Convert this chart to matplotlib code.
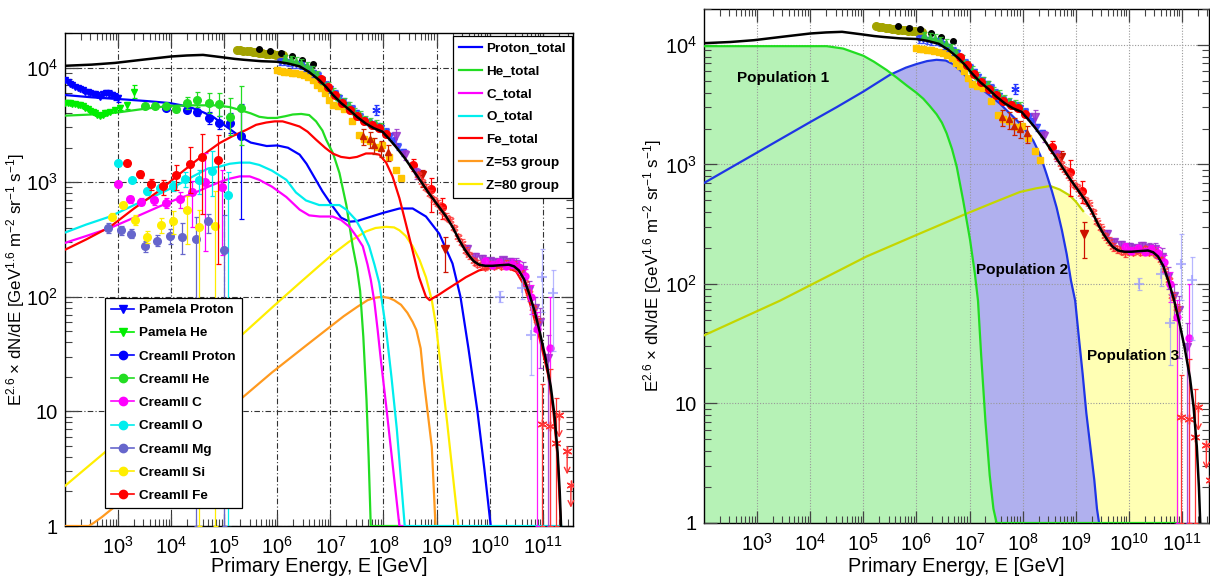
import numpy as np
import matplotlib.pyplot as plt
from matplotlib.lines import Line2D
from matplotlib.ticker import LogLocator, NullFormatter

plt.rcParams['font.family'] = ['Liberation Sans', 'DejaVu Sans']
plt.rcParams['mathtext.fontset'] = 'custom'
plt.rcParams['mathtext.rm'] = 'Liberation Sans'
plt.rcParams['mathtext.it'] = 'Liberation Sans:italic'
plt.rcParams['mathtext.bf'] = 'Liberation Sans:bold'

# values as log10(E/GeV) and log10(E^2.6 dN/dE)

# --- model curves (left panel) ---
total_lE = [2.0, 2.5, 2.94, 3.5, 4.0, 4.3, 4.6, 4.95, 5.2, 5.38, 5.7, 6.0, 6.2, 6.42, 6.6, 6.79, 6.92, 7.04,
            7.2, 7.36, 7.5, 7.67, 7.82, 7.98, 8.1, 8.23, 8.4, 8.55, 8.7, 8.86, 9.02, 9.18, 9.3, 9.42, 9.52,
            9.61, 9.7, 9.8, 9.92, 10.05, 10.2, 10.36, 10.46, 10.55, 10.65, 10.75, 10.85, 10.95, 11.05,
            11.15, 11.22, 11.28, 11.32, 11.345]
total_lF = [4.015, 4.025, 4.04, 4.07, 4.096, 4.105, 4.11, 4.09, 4.075, 4.067, 4.055, 4.05, 4.035, 4.01,
            3.96, 3.89, 3.83, 3.765, 3.69, 3.63, 3.57, 3.51, 3.47, 3.44, 3.38, 3.31, 3.21, 3.11, 3.01,
            2.90, 2.80, 2.70, 2.61, 2.50, 2.42, 2.36, 2.31, 2.28, 2.27, 2.27, 2.275, 2.28, 2.265, 2.23,
            2.15, 2.02, 1.87, 1.68, 1.47, 1.22, 0.97, 0.64, 0.30, 0.0]

p_lE = [2.0, 2.5, 3.16, 3.6, 3.97, 4.2, 4.41, 4.6, 4.79, 5.04, 5.29, 5.5, 5.8, 6.0, 6.2, 6.42, 6.55, 6.7,
        6.85, 7.04, 7.2, 7.36, 7.5, 7.67, 7.98, 8.3, 8.55, 8.8, 9.05, 9.3, 9.45, 9.6, 9.77, 9.9, 10.02]
p_lF = [3.76, 3.74, 3.72, 3.705, 3.69, 3.67, 3.645, 3.61, 3.57, 3.485, 3.40, 3.345, 3.315, 3.32, 3.30,
        3.24, 3.16, 3.04, 2.92, 2.79, 2.69, 2.655, 2.66, 2.685, 2.73, 2.77, 2.77, 2.70, 2.55, 2.29, 2.0,
        1.55, 1.0, 0.5, 0.0]

he_lE = [2.0, 2.5, 3.03, 3.5, 3.97, 4.4, 4.85, 5.1, 5.29, 5.5, 5.66, 5.82, 5.98, 6.15, 6.29, 6.45, 6.6,
         6.73, 6.85, 6.92, 7.05, 7.17, 7.3, 7.42, 7.5, 7.56, 7.62, 7.68, 7.72, 7.76, 8.3]
he_lF = [3.58, 3.59, 3.61, 3.64, 3.665, 3.67, 3.67, 3.655, 3.63, 3.60, 3.57, 3.56, 3.56, 3.575, 3.59,
         3.595, 3.585, 3.53, 3.45, 3.37, 3.25, 3.08, 2.80, 2.44, 2.25, 2.05, 1.65, 1.1, 0.6, 0.0, 0.0]

c_lE = [2.0, 2.4, 2.85, 3.3, 3.79, 4.1, 4.41, 4.7, 4.91, 5.1, 5.29, 5.48, 5.66, 5.9, 6.17, 6.42, 6.6, 6.8,
        7.04, 7.2, 7.36, 7.5, 7.61, 7.7, 7.76, 7.83, 7.89, 7.95, 8.05, 8.15, 8.3, 8.4]
c_lF = [2.47, 2.53, 2.60, 2.69, 2.79, 2.85, 2.90, 2.96, 3.0, 3.03, 3.05, 3.05, 3.02, 2.96, 2.87, 2.76,
        2.71, 2.70, 2.70, 2.67, 2.61, 2.52, 2.44, 2.28, 2.15, 1.95, 1.71, 1.45, 1.05, 0.63, 0.0, 0.0]

o_lE = [2.0, 2.4, 2.85, 3.3, 3.79, 4.1, 4.41, 4.7, 4.91, 5.1, 5.29, 5.48, 5.66, 5.9, 6.17, 6.35, 6.54,
        6.79, 7.0, 7.17, 7.3, 7.48, 7.6, 7.73, 7.83, 7.92, 8.05, 8.15, 8.25, 8.33, 8.4, 11.35]
o_lF = [2.56, 2.63, 2.70, 2.80, 2.90, 2.97, 3.05, 3.12, 3.135, 3.16, 3.17, 3.17, 3.15, 3.10, 3.02, 2.91,
        2.84, 2.80, 2.80, 2.80, 2.76, 2.67, 2.57, 2.44, 2.28, 2.12, 1.71, 1.3, 0.85, 0.4, 0.0, 0.0]

fe_lE = [2.0, 2.4, 2.85, 3.3, 3.79, 4.1, 4.41, 4.7, 4.91, 5.15, 5.41, 5.6, 5.79, 5.95, 6.1, 6.25, 6.42,
         6.57, 6.73, 6.9, 7.04, 7.2, 7.36, 7.5, 7.67, 7.8, 7.92, 8.05, 8.17, 8.3, 8.42, 8.55, 8.67, 8.8,
         8.87, 8.92, 9.05, 9.18, 9.35, 9.55, 9.8, 10.0, 10.3, 10.5, 10.65, 10.8, 10.95, 11.1, 11.2,
         11.28, 11.34]
fe_lF = [2.41, 2.50, 2.61, 2.77, 2.93, 3.05, 3.165, 3.27, 3.34, 3.40, 3.455, 3.50, 3.52, 3.53, 3.53,
         3.51, 3.485, 3.44, 3.37, 3.30, 3.25, 3.22, 3.21, 3.22, 3.25, 3.25, 3.24, 3.17, 3.05, 2.86, 2.64,
         2.40, 2.17, 2.0, 1.97, 1.985, 2.02, 2.06, 2.11, 2.17, 2.23, 2.25, 2.26, 2.22, 2.10, 1.88, 1.62,
         1.32, 1.0, 0.6, 0.0]

z53_lE = [2.0, 2.45, 2.55, 2.7, 2.86, 3.0, 3.5, 4.0, 4.5, 5.24, 5.9, 6.53, 7.0, 7.25, 7.5, 7.7, 7.83,
          7.97, 8.1, 8.2, 8.33, 8.45, 8.55, 8.62, 8.7, 8.76, 8.83, 8.91, 8.98]
z53_lF = [0.0, 0.0, 0.03, 0.08, 0.14, 0.19, 0.39, 0.58, 0.80, 1.08, 1.34, 1.57, 1.74, 1.83, 1.91, 1.97,
          1.99, 2.0, 1.99, 1.97, 1.93, 1.86, 1.78, 1.71, 1.55, 1.27, 1.0, 0.69, 0.0]

z80_lE = [2.0, 3.0, 4.0, 5.0, 5.41, 6.03, 6.42, 6.79, 7.04, 7.35, 7.67, 7.85, 8.05, 8.2, 8.3, 8.42, 8.55,
          8.68, 8.8, 8.91, 8.99, 9.1, 9.2, 9.3, 9.41]
z80_lF = [0.35, 0.74, 1.13, 1.53, 1.70, 1.96, 2.12, 2.27, 2.37, 2.48, 2.57, 2.60, 2.61, 2.605, 2.58,
          2.53, 2.44, 2.32, 2.17, 1.97, 1.75, 1.3, 0.9, 0.47, 0.0]

# --- populations (right panel) ---
pop1_lE = [2.0, 3.0, 4.0, 4.31, 4.62, 5.0, 5.2, 5.44, 5.62, 5.82, 6.0, 6.13, 6.25, 6.38, 6.48, 6.57, 6.67,
           6.76, 6.88, 7.01, 7.1, 7.16, 7.22, 7.3, 7.38, 7.45, 7.51, 10.93]
pop1_lF = [3.99, 3.99, 3.99, 3.99, 3.97, 3.91, 3.86, 3.79, 3.73, 3.66, 3.60, 3.55, 3.49, 3.42, 3.35,
           3.26, 3.13, 2.98, 2.70, 2.37, 2.09, 1.86, 1.4, 0.85, 0.4, 0.12, 0.0, 0.0]
pop2_lE = [2.0, 3.0, 4.0, 4.5, 5.0, 5.5, 5.8, 6.0, 6.2, 6.38, 6.55, 6.69, 6.82, 6.95, 7.1, 7.26, 7.42,
           7.57, 7.73, 7.89, 8.05, 8.2, 8.33, 8.45, 8.55, 8.64, 8.74, 8.83, 8.91, 8.99, 9.06, 9.13, 9.2,
           9.28, 9.35, 9.4, 9.44]
pop2_lF = [2.845, 3.10, 3.355, 3.48, 3.61, 3.75, 3.81, 3.84, 3.865, 3.876, 3.87, 3.84, 3.79, 3.73, 3.68,
           3.62, 3.565, 3.51, 3.44, 3.37, 3.29, 3.20, 3.08, 2.92, 2.78, 2.64, 2.45, 2.25, 2.03, 1.86,
           1.55, 1.25, 0.92, 0.62, 0.36, 0.12, 0.0]
pop3_lE = [2.0, 3.43, 5.06, 6.0, 6.95, 7.5, 7.95, 8.25, 8.52, 8.7, 8.89, 9.0, 9.14, 9.3, 9.42, 9.52,
           9.61, 9.7, 9.8, 9.92, 10.05, 10.2, 10.36, 10.46, 10.55, 10.65, 10.75, 10.85, 10.93, 10.935]
pop3_lF = [1.57, 1.86, 2.23, 2.41, 2.59, 2.69, 2.77, 2.80, 2.82, 2.79, 2.74, 2.69, 2.61, 2.55, 2.47,
           2.40, 2.34, 2.29, 2.26, 2.25, 2.25, 2.255, 2.26, 2.245, 2.21, 2.13, 2.0, 1.85, 1.70, 0.0]

# --- direct measurements (low energy) ---
pam_p_lE = [2.0, 2.05, 2.09, 2.14, 2.19, 2.24, 2.28, 2.33, 2.38, 2.43, 2.47, 2.52, 2.56, 2.61, 2.66,
            2.72, 2.77, 2.82, 2.88, 2.94, 3.0]
pam_p_lF = [3.89, 3.875, 3.86, 3.845, 3.83, 3.82, 3.81, 3.80, 3.79, 3.785, 3.777, 3.772, 3.768, 3.76,
            3.747, 3.765, 3.78, 3.77, 3.76, 3.745, 3.73]
pam_p_err = [0.01, 0.01, 0.01, 0.01, 0.01, 0.01, 0.01, 0.01, 0.01, 0.01, 0.01, 0.01, 0.01, 0.01, 0.01,
             0.02, 0.02, 0.03, 0.03, 0.03, 0.03]
pam_he_lE = [2.0, 2.05, 2.09, 2.14, 2.19, 2.24, 2.28, 2.33, 2.38, 2.43, 2.47, 2.52, 2.56, 2.61, 2.66,
             2.71, 2.75, 2.80, 2.85, 2.94, 3.03, 3.16, 3.30]
pam_he_lF = [3.69, 3.69, 3.688, 3.685, 3.68, 3.675, 3.67, 3.66, 3.65, 3.635, 3.62, 3.61, 3.60, 3.59,
             3.58, 3.59, 3.60, 3.605, 3.61, 3.63, 3.65, 3.67, 3.79]
pam_he_err = [0.01, 0.01, 0.01, 0.01, 0.01, 0.01, 0.01, 0.01, 0.01, 0.01, 0.01, 0.01, 0.01, 0.01, 0.01,
              0.01, 0.01, 0.01, 0.01, 0.02, 0.02, 0.03, 0.06]

cr_p_lE = [3.90, 4.30, 4.49, 4.71, 4.90, 5.10, 5.31]
cr_p_lF = [3.65, 3.63, 3.61, 3.56, 3.52, 3.515, 3.40]
cr_p_up = [0.01, 0.015, 0.03, 0.05, 0.06, 0.09, 0.28]
cr_p_dn = [0.01, 0.015, 0.03, 0.05, 0.06, 0.09, 0.72]
cr_he_lE = [3.50, 3.70, 3.90, 4.10, 4.30, 4.49, 4.71, 4.90, 5.10, 5.31]
cr_he_lF = [3.66, 3.66, 3.66, 3.64, 3.69, 3.72, 3.69, 3.68, 3.57, 3.645]
cr_he_up = [0.01, 0.01, 0.015, 0.03, 0.05, 0.065, 0.09, 0.10, 0.16, 0.19]
cr_he_dn = [0.01, 0.01, 0.015, 0.03, 0.05, 0.065, 0.09, 0.10, 0.16, 0.32]
cr_c_lE = [3.0, 3.22, 3.44, 3.68, 3.91, 4.16, 4.40, 4.64, 4.95]
cr_c_lF = [2.985, 2.85, 2.83, 2.84, 2.82, 2.85, 2.91, 3.0, 2.96]
cr_c_up = [0.02, 0.03, 0.03, 0.03, 0.04, 0.06, 0.10, 0.25, 0.15]
cr_c_dn = [0.02, 0.03, 0.03, 0.04, 0.05, 0.08, 0.30, 0.60, 0.60]
cr_o_lE = [3.0, 3.27, 3.55, 3.79, 4.04, 4.27, 4.52, 4.76, 5.07]
cr_o_lF = [3.165, 3.02, 2.92, 2.95, 2.97, 3.03, 3.02, 3.10, 2.89]
cr_o_up = [0.02, 0.02, 0.03, 0.03, 0.04, 0.06, 0.09, 0.17, 0.20]
cr_o_dn = [0.02, 0.02, 0.03, 0.03, 0.05, 0.07, 0.12, 0.22, 2.9]
cr_mg_lE = [2.81, 3.05, 3.25, 3.50, 3.73, 3.97, 4.21, 4.46, 4.70, 4.99]
cr_mg_lF = [2.60, 2.58, 2.55, 2.44, 2.49, 2.53, 2.52, 2.50, 2.66, 2.41]
cr_mg_up = [0.04, 0.04, 0.04, 0.05, 0.05, 0.06, 0.12, 0.20, 0.06, 0.30]
cr_mg_dn = [0.04, 0.04, 0.04, 0.05, 0.05, 0.07, 0.15, 2.5, 0.10, 2.41]
cr_si_lE = [2.88, 3.10, 3.32, 3.55, 3.80, 4.04, 4.29, 4.52, 4.82]
cr_si_lF = [2.70, 2.80, 2.67, 2.52, 2.63, 2.665, 2.76, 2.61, 2.62]
cr_si_up = [0.03, 0.03, 0.04, 0.05, 0.06, 0.08, 0.12, 0.15, 0.30]
cr_si_dn = [0.03, 0.03, 0.04, 0.05, 0.07, 0.12, 0.30, 2.61, 2.62]
cr_fe_lE = [3.16, 3.41, 3.62, 3.85, 4.10, 4.35, 4.59, 4.89]
cr_fe_lF = [3.165, 3.07, 2.985, 2.97, 3.06, 3.155, 3.22, 3.19]
cr_fe_up = [0.02, 0.03, 0.04, 0.05, 0.09, 0.15, 0.20, 0.22]
cr_fe_dn = [0.02, 0.03, 0.05, 0.08, 0.13, 0.25, 0.50, 0.90]

# --- air shower data (high energy) ---
olive_lE = [5.24, 5.30, 5.36, 5.42, 5.48, 5.54, 5.60, 5.66, 5.72, 5.78, 5.85, 5.92, 5.98, 6.04, 6.10]
olive_lF = [4.155, 4.152, 4.148, 4.144, 4.14, 4.137, 4.133, 4.128, 4.125, 4.122, 4.12, 4.117, 4.113,
            4.11, 4.105]
blk_lE = [5.66, 5.86, 6.07, 6.28, 6.46, 6.68]
blk_lF = [4.16, 4.145, 4.13, 4.10, 4.067, 4.03]
gold_lE = [5.99, 6.06, 6.13, 6.2, 6.27, 6.34, 6.42, 6.5, 6.58, 6.67, 6.75, 6.82, 6.89, 6.97, 7.04, 7.15,
           7.25, 7.4, 7.54, 7.64, 7.75, 7.9, 7.98, 8.1, 8.23, 8.33]
gold_lF = [3.975, 3.97, 3.965, 3.96, 3.955, 3.95, 3.945, 3.935, 3.92, 3.89, 3.85, 3.82, 3.78, 3.72, 3.67,
           3.66, 3.64, 3.53, 3.41, 3.38, 3.36, 3.31, 3.325, 3.22, 3.11, 3.04]
btri_lE = [6.05, 6.12, 6.2, 6.28, 6.36, 6.44, 6.52, 6.6, 6.68, 6.76, 6.84, 6.92, 7.0, 7.08, 7.16, 7.24,
           7.32, 7.4, 7.48, 7.56, 7.64, 7.72, 7.8, 7.88, 7.96, 8.04, 8.12, 8.2, 8.28, 8.36]
btri_lF = [4.05, 4.05, 4.04, 4.03, 4.03, 4.02, 4.0, 3.98, 3.95, 3.93, 3.89, 3.85, 3.81, 3.77, 3.73, 3.70,
           3.67, 3.64, 3.60, 3.57, 3.54, 3.52, 3.50, 3.49, 3.47, 3.44, 3.40, 3.36, 3.31, 3.26]
gtri_lE = [6.15, 6.25, 6.35, 6.45, 6.55, 6.65, 6.75, 6.85, 6.95, 7.05, 7.15, 7.25, 7.35, 7.45, 7.55,
           7.65, 7.75, 7.85, 7.95]
gtri_lF = [4.08, 4.07, 4.06, 4.04, 4.02, 3.98, 3.94, 3.89, 3.84, 3.79, 3.74, 3.70, 3.67, 3.62, 3.59,
           3.55, 3.53, 3.51, 3.49]
rc_lE = [6.82, 6.95, 7.08, 7.22, 7.36, 7.5, 7.64, 7.78, 7.92, 8.05, 8.55, 8.89, 9.11]
rc_lF = [3.90, 3.83, 3.76, 3.69, 3.63, 3.58, 3.53, 3.50, 3.47, 3.42, 3.15, 2.94, 2.78]
rc_up = [0.02, 0.02, 0.02, 0.02, 0.02, 0.02, 0.02, 0.02, 0.02, 0.02, 0.05, 0.10, 0.08]
rc_dn = [0.02, 0.02, 0.02, 0.02, 0.02, 0.02, 0.02, 0.02, 0.02, 0.02, 0.05, 0.20, 0.10]
dru_lE = [7.61, 7.75, 7.83, 7.95, 8.08]
dru_lF = [3.40, 3.38, 3.325, 3.30, 3.26]
drd_lE = [8.73, 9.16]
drd_lF = [3.06, 2.42]
drd_up = [0.05, 0.10]
drd_dn = [0.10, 0.20]
pur_lE = [8.23, 8.40, 8.62, 9.58, 9.72, 9.86, 10.0, 10.12, 10.25, 10.38, 10.5, 10.62, 10.74, 10.85,
          10.95, 11.1]
pur_lF = [3.40, 3.24, 3.08, 2.42, 2.35, 2.33, 2.31, 2.30, 2.32, 2.30, 2.29, 2.23, 2.06, 1.90, 1.78, 1.47]
pur_up = [0.06, 0.04, 0.04, 0.03, 0.03, 0.03, 0.03, 0.03, 0.03, 0.04, 0.05, 0.07, 0.08, 0.10, 0.12, 0.20]
pur_dn = [0.08, 0.05, 0.05, 0.03, 0.03, 0.03, 0.03, 0.03, 0.03, 0.04, 0.06, 0.08, 0.10, 0.20, 0.40, 1.47]
rs_lE = [8.65, 8.72, 8.8, 8.87, 8.95, 9.02, 9.1, 9.17, 9.25, 9.32, 9.4, 9.47, 9.55, 9.62, 9.7, 9.77,
         9.85, 9.92, 10.0, 10.08, 10.15, 10.22, 10.3, 10.38, 10.45, 10.52, 10.6, 10.67, 10.75, 10.82, 10.9]
rs_lF = [3.06, 3.0, 2.95, 2.90, 2.84, 2.81, 2.75, 2.70, 2.67, 2.60, 2.52, 2.47, 2.40, 2.36, 2.31, 2.29,
         2.28, 2.26, 2.28, 2.27, 2.29, 2.27, 2.29, 2.27, 2.28, 2.25, 2.20, 2.12, 2.03, 1.90, 1.80]
mag_lE = [9.92, 10.05, 10.18, 10.3, 10.42, 10.55, 10.66, 10.78, 10.9, 11.14]
mag_lF = [2.31, 2.28, 2.30, 2.27, 2.29, 2.26, 2.18, 2.0, 1.72, 1.55]
mag_up = [0.03, 0.03, 0.03, 0.03, 0.04, 0.05, 0.06, 0.10, 0.15, 0.45]
mag_dn = [0.03, 0.03, 0.03, 0.03, 0.04, 0.05, 0.08, 0.15, 1.72, 1.55]
lb_lE = [10.20, 10.60, 10.78, 10.99, 11.19]
lb_lF = [2.0, 2.08, 1.67, 2.17, 2.03]
lb_up = [0.05, 0.10, 0.25, 0.25, 0.20]
lb_dn = [0.05, 0.10, 0.35, 0.30, 0.50]
bstar_lE = [7.86]
bstar_lF = [3.63]
rhi_lE = [10.99, 11.14, 11.25]
rhi_lF = [0.89, 0.87, 0.72]
rhi_up = [0.35, 0.50, 0.40]
rhi_dn = [0.89, 0.87, 0.72]
ul_lE = [11.31, 11.46, 11.53]
ul_lF = [0.97, 0.65, 0.36]


def curve(ax, lE, lF, color, lw=1.6, z=3):
    ax.plot(10 ** np.asarray(lE), 10 ** np.asarray(lF), color=color, lw=lw, zorder=z,
            solid_joinstyle='round')


def pts(ax, lE, lF, up, dn, color, marker, ms=5.0, alpha=1.0, z=4, mew=1.0):
    lE = np.asarray(lE, float)
    lF = np.asarray(lF, float)
    up = np.broadcast_to(np.asarray(up, float), lF.shape)
    dn = np.broadcast_to(np.asarray(dn, float), lF.shape)
    x = 10 ** lE
    y = 10 ** lF
    ax.errorbar(x, y, yerr=[y - 10 ** (lF - dn), 10 ** (lF + up) - y], fmt='none', ecolor=color,
                elinewidth=0.9, capsize=1.8, capthick=0.9, alpha=alpha, zorder=z)
    ax.plot(x, y, linestyle='none', marker=marker, ms=ms, color=color, mec=color, mew=mew,
            alpha=alpha, zorder=z)


star = (6, 2, 0)


def high_energy(ax):
    pts(ax, olive_lE, olive_lF, 0.01, 0.01, '#a3a300', 'o', ms=5.5)
    pts(ax, blk_lE, blk_lF, 0.01, 0.01, 'black', 'o', ms=4)
    pts(ax, gold_lE, gold_lF, 0.015, 0.015, '#ffc400', 's', ms=5)
    pts(ax, btri_lE, btri_lF, 0.03, 0.03, '#3344ff', 'v', ms=4.5, alpha=0.85)
    pts(ax, gtri_lE, gtri_lF, 0.03, 0.03, '#33cc33', '^', ms=4.5, alpha=0.85)
    pts(ax, rc_lE, rc_lF, rc_up, rc_dn, '#ff0000', 'o', ms=5.5)
    pts(ax, dru_lE, dru_lF, 0.06, 0.08, '#cc2200', '^', ms=5)
    pts(ax, drd_lE, drd_lF, drd_up, drd_dn, '#cc1100', 'v', ms=5.5)
    pts(ax, bstar_lE, bstar_lF, 0.04, 0.04, '#2233ff', star, ms=6)
    pts(ax, pur_lE, pur_lF, pur_up, pur_dn, '#9933cc', 'v', ms=5.5, alpha=0.85)
    pts(ax, rs_lE, rs_lF, 0.03, 0.03, '#ff3333', star, ms=6, alpha=0.8)
    pts(ax, mag_lE, mag_lF, mag_up, mag_dn, '#ff00ff', 'o', ms=5, alpha=0.9)
    pts(ax, lb_lE, lb_lF, lb_up, lb_dn, '#9999ff', '+', ms=7, alpha=0.7, mew=1.5)
    pts(ax, rhi_lE, rhi_lF, rhi_up, rhi_dn, '#ff3333', star, ms=7)
    for e, f in zip(ul_lE, ul_lF):
        ax.plot([10 ** e], [10 ** f], marker=star, color='#ff3333', ms=7, mew=1.0, zorder=4)
        ax.annotate('', xy=(10 ** e, 10 ** (f - 0.2)), xytext=(10 ** e, 10 ** f),
                    arrowprops=dict(arrowstyle='->', color='#ff3333', lw=1.0, shrinkA=0, shrinkB=0),
                    zorder=4)


def style(ax, xmax, grid_color, grid_ls):
    ax.set_xscale('log')
    ax.set_yscale('log')
    ax.set_xlim(1e2, 10 ** xmax)
    ax.set_ylim(1, 2e4)
    ax.set_xticks([10.0 ** k for k in range(3, 12)])
    ax.set_xticklabels([r'$\mathregular{10^{%d}}$' % k for k in range(3, 12)])
    ax.set_yticks([1, 10, 100, 1e3, 1e4])
    ax.set_yticklabels(['1', '10', r'$\mathregular{10^{2}}$', r'$\mathregular{10^{3}}$',
                        r'$\mathregular{10^{4}}$'])
    for axis in (ax.xaxis, ax.yaxis):
        axis.set_minor_locator(LogLocator(base=10, subs=np.arange(2, 10), numticks=100))
        axis.set_minor_formatter(NullFormatter())
    ax.tick_params(which='both', direction='in', top=True, right=True, color='#444444',
                   labelsize=14.5)
    ax.tick_params(axis='x', pad=7)
    ax.tick_params(axis='y', pad=5)
    ax.tick_params(which='major', length=9, width=0.9)
    ax.tick_params(which='minor', length=5, width=0.8)
    ax.grid(True, which='major', color=grid_color, linestyle=grid_ls, linewidth=0.8)
    for s in ax.spines.values():
        s.set_linewidth(1.0)
    ax.set_xlabel('Primary Energy, E [GeV]', fontsize=14.3)
    ax.set_ylabel(r'E$^{2.6}$ $\times$ dN/dE [GeV$^{1.6}$ m$^{-2}$ sr$^{-1}$ s$^{-1}$]', fontsize=12.2)


fig = plt.figure(figsize=(12.1, 5.81), dpi=100)
ax1 = fig.add_axes([65 / 1210, 55 / 581, 508 / 1210, 493 / 581])
ax2 = fig.add_axes([704 / 1210, 58 / 581, 505 / 1210, 514 / 581])

# ---------------- left panel ----------------
style(ax1, 11.57, '#333333', (0, (5, 2, 1, 2)))
ax1.set_axisbelow(True)
ax1.xaxis.set_label_coords(0.5, -0.063)
ax1.yaxis.set_label_coords(-0.075, 0.5)

curve(ax1, z53_lE, z53_lF, '#ff9a1f')
curve(ax1, z80_lE, z80_lF, '#ffee00')
curve(ax1, p_lE, p_lF, '#0000ff')
curve(ax1, he_lE, he_lF, '#22dd22')
curve(ax1, c_lE, c_lF, '#ff00ff')
curve(ax1, o_lE, o_lF, '#00eeee')
curve(ax1, fe_lE, fe_lF, '#ff0000')

pts(ax1, pam_p_lE, pam_p_lF, pam_p_err, pam_p_err, '#0000ff', 'v', ms=5)
pts(ax1, pam_he_lE, pam_he_lF, pam_he_err, pam_he_err, '#00ee00', 'v', ms=5)
pts(ax1, cr_p_lE, cr_p_lF, cr_p_up, cr_p_dn, '#0000ff', 'o', ms=5.5)
pts(ax1, cr_he_lE, cr_he_lF, cr_he_up, cr_he_dn, '#22dd22', 'o', ms=5.5)
pts(ax1, cr_c_lE, cr_c_lF, cr_c_up, cr_c_dn, '#ff00ff', 'o', ms=5.5)
pts(ax1, cr_o_lE, cr_o_lF, cr_o_up, cr_o_dn, '#00eeee', 'o', ms=5.5)
pts(ax1, cr_mg_lE, cr_mg_lF, cr_mg_up, cr_mg_dn, '#6666cc', 'o', ms=5.5)
pts(ax1, cr_si_lE, cr_si_lF, cr_si_up, cr_si_dn, '#ffee00', 'o', ms=5.5)
pts(ax1, cr_fe_lE, cr_fe_lF, cr_fe_up, cr_fe_dn, '#ff0000', 'o', ms=5.5)
high_energy(ax1)
curve(ax1, total_lE, total_lF, 'black', lw=1.8, z=5)

model_names = ['Proton_total', 'He_total', 'C_total', 'O_total', 'Fe_total', 'Z=53 group', 'Z=80 group']
model_colors = ['#0000ff', '#22dd22', '#ff00ff', '#00eeee', '#ff0000', '#ff9a1f', '#ffee00']
h1 = [Line2D([], [], color=c, lw=1.6) for c in model_colors]
leg1 = ax1.legend(h1, model_names, loc='upper right', bbox_to_anchor=(0.998, 0.994),
                  prop={'weight': 'bold', 'size': 9.7}, fancybox=False, edgecolor='black',
                  framealpha=1, handlelength=1.7, handletextpad=0.35, labelspacing=0.78,
                  borderpad=0.45, borderaxespad=0)
leg1.get_frame().set_linewidth(0.9)
leg1.set_zorder(10)
ax1.add_artist(leg1)

data_names = ['Pamela Proton', 'Pamela He', 'CreamII Proton', 'CreamII He', 'CreamII C', 'CreamII O',
              'CreamII Mg', 'CreamII Si', 'CreamII Fe']
data_colors = ['#0000ff', '#00ee00', '#0000ff', '#22dd22', '#ff00ff', '#00eeee', '#6666cc', '#ffee00',
               '#ff0000']
data_markers = ['v', 'v', 'o', 'o', 'o', 'o', 'o', 'o', 'o']
h2 = [Line2D([], [], color=c, marker=m, ms=6, lw=1.2) for c, m in zip(data_colors, data_markers)]
leg2 = ax1.legend(h2, data_names, loc='lower left', bbox_to_anchor=(0.079, 0.0365),
                  prop={'weight': 'bold', 'size': 9.7}, fancybox=False, edgecolor='black',
                  framealpha=1, handlelength=1.7, handletextpad=0.35, labelspacing=0.8,
                  borderpad=0.45, borderaxespad=0)
leg2.get_frame().set_linewidth(0.9)
leg2.set_zorder(10)

# ---------------- right panel ----------------
style(ax2, 11.51, '#999999', (0, (1, 1.5)))
ax2.set_axisbelow(False)
ax2.xaxis.set_label_coords(0.5, -0.066)
ax2.yaxis.set_label_coords(-0.08, 0.5)

ax2.fill_between(10 ** np.asarray(pop3_lE), 1, 10 ** np.asarray(pop3_lF), color='#ffffb4', lw=0,
                 zorder=1.0)
ax2.fill_between(10 ** np.asarray(pop2_lE), 1, 10 ** np.asarray(pop2_lF), color='#b0b0ee', lw=0,
                 zorder=1.1)
ax2.fill_between(10 ** np.asarray(pop1_lE), 1, 10 ** np.asarray(pop1_lF), color='#b6f2b6', lw=0,
                 zorder=1.2)
curve(ax2, pop3_lE[:13], pop3_lF[:13], '#c4d600')
curve(ax2, pop2_lE, pop2_lF, '#1f35e6')
curve(ax2, pop1_lE, pop1_lF, '#22dd22')
high_energy(ax2)
curve(ax2, total_lE, total_lF, 'black', lw=1.8, z=5)

ax2.text(10 ** 2.62, 10 ** 3.72, 'Population 1', fontsize=11, fontweight='bold', va='center', zorder=6)
ax2.text(10 ** 7.12, 10 ** 2.12, 'Population 2', fontsize=11, fontweight='bold', va='center', zorder=6)
ax2.text(10 ** 9.22, 10 ** 1.40, 'Population 3', fontsize=11, fontweight='bold', va='center', zorder=6)

plt.savefig('out.png', dpi=100)
